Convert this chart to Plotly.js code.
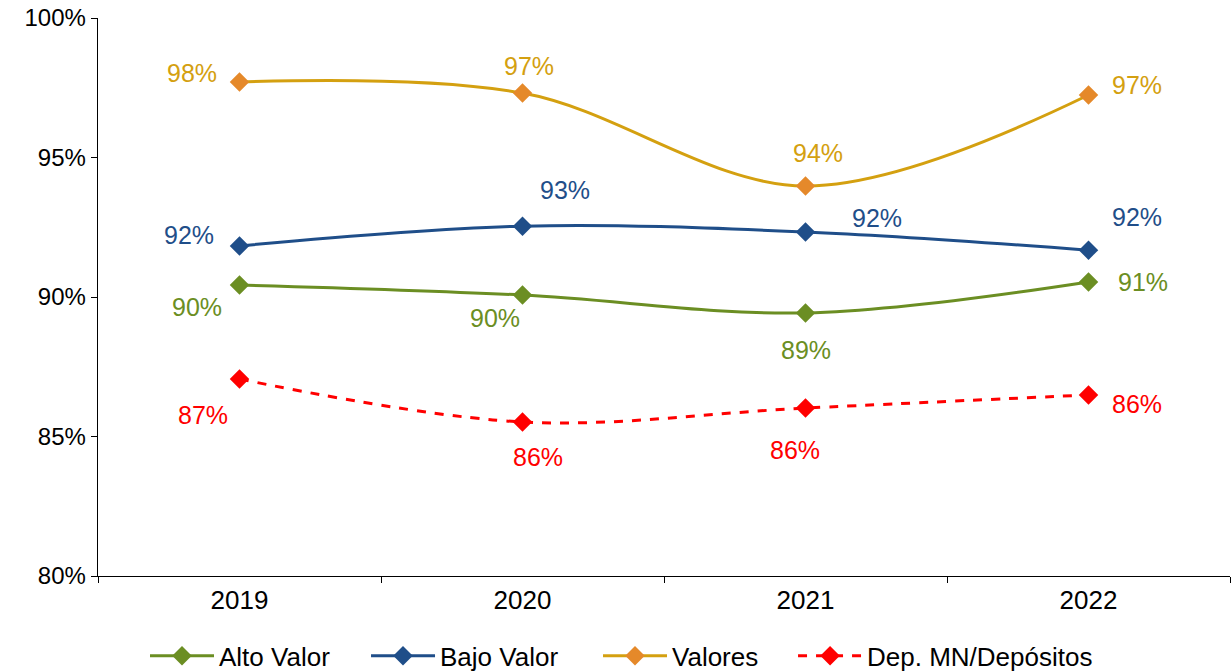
<!DOCTYPE html>
<html>
<head>
<meta charset="utf-8">
<script src="https://cdn.plot.ly/plotly-3.0.1.min.js"></script>
<style>html,body{margin:0;padding:0;background:#fff;}#chart{width:1232px;height:672px;}</style>
</head>
<body>
<div id="chart"></div>
<script>
const years = ['2019', '2020', '2021', '2022'];
const altoValor = [90.43, 90.07, 89.43, 90.54];
const bajoValor = [91.83, 92.54, 92.33, 91.68];
const valores = [97.71, 97.31, 93.98, 97.24];
const depMN = [87.06, 85.52, 86.02, 86.49];
const seriesNames = ['Alto Valor', 'Bajo Valor', 'Valores', 'Dep. MN/Depósitos'];

const styles = [
  {line: '#6B8E23', marker: '#6B8E23', text: '#6B8E23', dash: 'solid', legendX: 0.1177,
   shifts: [[-43, -22], [-28, -23], [0, -37], [54, 0]]},
  {line: '#1F4E89', marker: '#1F4E89', text: '#1F4E89', dash: 'solid', legendX: 0.2971,
   shifts: [[-51, 11], [42, 36], [71, 14], [48, 33]]},
  {line: '#D4A010', marker: '#E5892A', text: '#D4A010', dash: 'solid', legendX: 0.4854,
   shifts: [[-48, 9], [6, 27], [12, 33], [48, 10]]},
  {line: '#FF0000', marker: '#FF0000', text: '#FF0000', dash: 'dash', legendX: 0.6437,
   shifts: [[-37, -36], [15, -35], [-11, -42], [48, -9]]}
];
const data = [altoValor, bajoValor, valores, depMN];
const legendIds = ['legend', 'legend2', 'legend3', 'legend4'];

const traces = data.map((vals, i) => ({
  x: years, y: vals, name: seriesNames[i], type: 'scatter', mode: 'lines+markers',
  legend: legendIds[i],
  line: {color: styles[i].line, width: 3, dash: styles[i].dash, shape: 'spline', smoothing: 1},
  marker: {symbol: 'diamond', size: 15, color: styles[i].marker},
  hoverinfo: 'skip'
}));

const annotations = [];
data.forEach((vals, i) => {
  vals.forEach((v, j) => {
    annotations.push({
      x: j, y: v, xref: 'x', yref: 'y', text: Math.round(v) + '%',
      showarrow: false, xshift: styles[i].shifts[j][0], yshift: styles[i].shifts[j][1],
      font: {family: 'Liberation Sans, Arial, sans-serif', size: 25, color: styles[i].text}
    });
  });
});

const layout = {
  width: 1232, height: 672,
  margin: {l: 98, r: 2, t: 18, b: 96},
  paper_bgcolor: '#fff', plot_bgcolor: '#fff',
  font: {family: 'Liberation Sans, Arial, sans-serif', size: 24, color: '#000'},
  showlegend: true,
  xaxis: {type: 'category', range: [-0.5, 3.5], showline: true, linecolor: '#000', linewidth: 1.3,
          ticks: 'outside', ticklen: 6, tickcolor: '#000', tickson: 'boundaries',
          showgrid: false, zeroline: false, tickfont: {size: 26}, fixedrange: true},
  yaxis: {range: [80, 100], dtick: 5, ticksuffix: '%', showline: true, linecolor: '#000', linewidth: 1.3,
          ticks: 'outside', ticklen: 6, tickcolor: '#000', showgrid: false, zeroline: false,
          tickfont: {size: 24}, fixedrange: true},
  annotations: annotations
};
legendIds.forEach((id, i) => {
  layout[id] = {orientation: 'h', xref: 'container', x: styles[i].legendX, xanchor: 'left',
                yref: 'container', y: 0.024, yanchor: 'middle',
                font: {size: 26}, itemwidth: 64, bgcolor: 'rgba(0,0,0,0)'};
});

Plotly.newPlot('chart', traces, layout, {displayModeBar: false, staticPlot: true});
</script>
</body>
</html>
